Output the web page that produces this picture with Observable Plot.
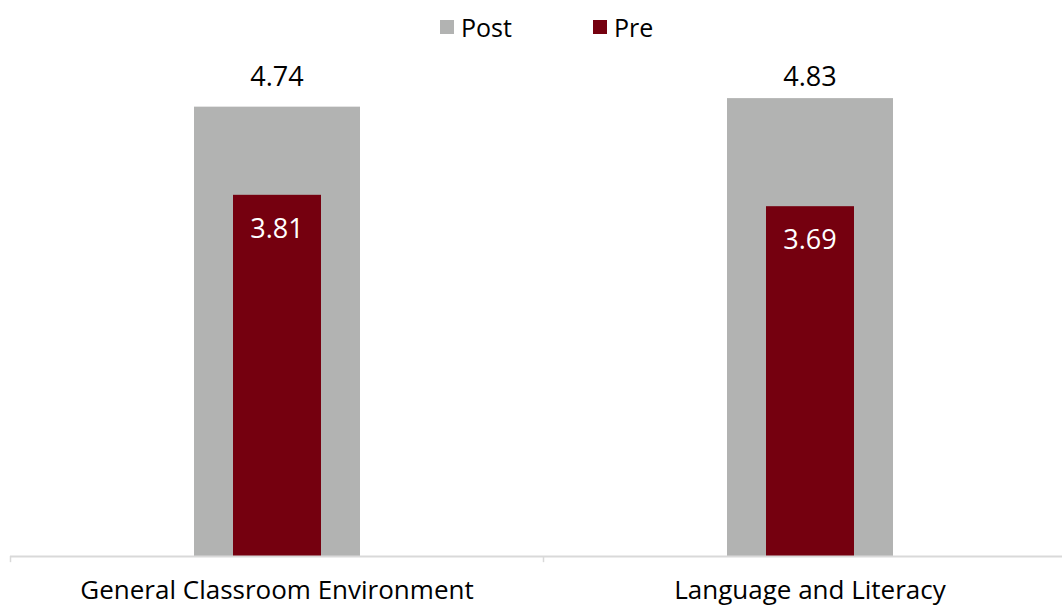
<!DOCTYPE html>
<html><head><meta charset="utf-8">
<script src="https://cdn.jsdelivr.net/npm/d3@7"></script>
<script src="https://cdn.jsdelivr.net/npm/@observablehq/plot@0.6"></script>
<style>
body{margin:0;background:#fff;font-family:"Open Sans",Roboto,sans-serif;}
#legend{position:relative;height:56px;width:1062px;font-size:25px;color:#000;}
.item{position:absolute;top:10px;display:flex;align-items:center;}
.sw{width:14px;height:14px;margin-right:7px;}
</style></head><body>
<div id="legend"></div>
<div id="chart"></div>
<script>
const categories = ["General Classroom Environment", "Language and Literacy"];
const postValues = [4.74, 4.83];
const preValues = [3.81, 3.69];
const seriesNames = ["Post", "Pre"];
const seriesColors = ["#b2b3b2", "#75000f"];

const rows = categories.map((c, i) => ({category: c, post: postValues[i], pre: preValues[i]}));

// legend
const leg = document.getElementById("legend");
const legX = [440, 593];
seriesNames.forEach((s, i) => {
  const d = document.createElement("div");
  d.className = "item";
  d.style.left = legX[i] + "px";
  d.innerHTML = `<span class="sw" style="background:${seriesColors[i]}"></span><span>${s}</span>`;
  leg.appendChild(d);
});

const bandW = 533;
const topPost = d3.max(postValues);
const plot = Plot.plot({
  width: 1062,
  height: 550,
  marginTop: 26,
  marginBottom: 50,
  marginLeft: 10,
  marginRight: 0,
  style: {fontFamily: "'Open Sans', Roboto, sans-serif", overflow: "visible"},
  x: {domain: categories, range: [10, 10 + 2 * bandW], padding: 0, axis: null},
  y: {domain: [0, 5], axis: null},
  marks: [
    Plot.barY(rows, {x: "category", y: "post", fill: seriesColors[0], insetLeft: 184, insetRight: 183}),
    Plot.barY(rows, {x: "category", y: "pre", fill: seriesColors[1], insetLeft: 223, insetRight: 222}),
    Plot.text(rows, {x: "category", y: () => topPost, text: d => d.post.toFixed(2), dy: -21, fontSize: 27, fill: "#000"}),
    Plot.text(rows, {x: "category", y: "pre", text: d => d.pre.toFixed(2), dy: 34, fontSize: 27, fill: "#fff"}),
    Plot.ruleY([0], {stroke: "#d9d9d9", strokeWidth: 2}),
    Plot.ruleX(categories, {x: d => d, dx: -bandW / 2, y1: 0, y2: -0.065, stroke: "#d9d9d9", strokeWidth: 1.5}),
    Plot.text(rows, {x: "category", y: 0, text: "category", dy: 34, fontSize: 26, fill: "#000"})
  ]
});
document.getElementById("chart").appendChild(plot);
</script>
</body></html>
